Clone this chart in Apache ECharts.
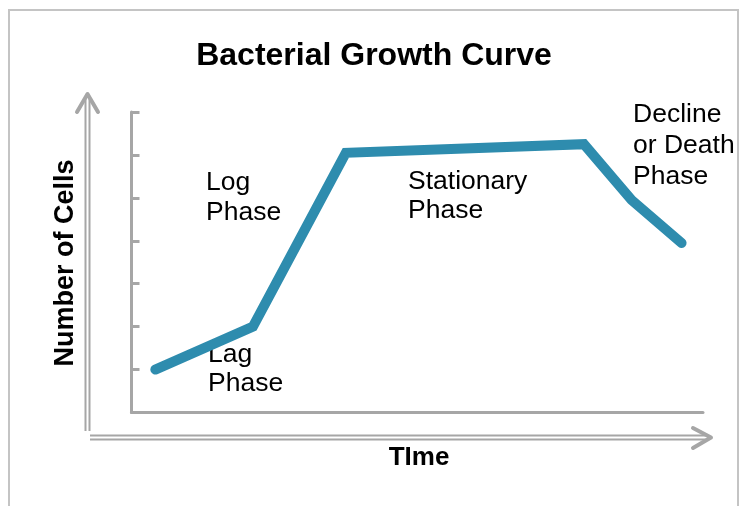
<!DOCTYPE html>
<html>
<head>
<meta charset="utf-8">
<script src="https://cdn.jsdelivr.net/npm/echarts@6/dist/echarts.min.js"></script>
<style>html,body{margin:0;padding:0;background:#fff}#c{width:742px;height:506px}</style>
</head>
<body>
<div id="c"></div>
<script>
var timeValues = [0.5, 2.55, 4.5, 9.5, 10.5, 11.55];
var cellValues = [1, 2, 6.05, 6.25, 4.95, 3.95];
var phaseLabels = [
  {text: 'Log\nPhase', x: 206, y: 198, lh: 30},
  {text: 'Lag\nPhase', x: 208, y: 369, lh: 29},
  {text: 'Stationary\nPhase', x: 408, y: 196, lh: 29},
  {text: 'Decline\nor Death\nPhase', x: 633, y: 146, lh: 31}
];
var titleText = 'Bacterial Growth Curve';
var xName = 'TIme';
var yName = 'Number of Cells';

var gray = '#a6a6a6';
var chart = echarts.init(document.getElementById('c'), null, {renderer: 'canvas'});
var graphics = [
  {type: 'polyline', shape: {points: [[9, 506], [9, 10], [738, 10], [738, 506]]}, style: {stroke: '#c4c4c4', lineWidth: 2, fill: null}},
  // vertical double arrow
  {type: 'line', shape: {x1: 85.5, y1: 98, x2: 85.5, y2: 431}, style: {stroke: gray, lineWidth: 2}},
  {type: 'line', shape: {x1: 89.5, y1: 98, x2: 89.5, y2: 431}, style: {stroke: gray, lineWidth: 2}},
  {type: 'polyline', shape: {points: [[77, 112], [87.5, 94], [98, 112]]}, style: {stroke: gray, lineWidth: 4, fill: null, lineCap: 'round', lineJoin: 'round'}},
  // horizontal double arrow
  {type: 'line', shape: {x1: 90, y1: 435.5, x2: 708, y2: 435.5}, style: {stroke: gray, lineWidth: 2}},
  {type: 'line', shape: {x1: 90, y1: 439.5, x2: 708, y2: 439.5}, style: {stroke: gray, lineWidth: 2}},
  {type: 'polyline', shape: {points: [[693, 428], [711, 437.5], [693, 448]]}, style: {stroke: gray, lineWidth: 4, fill: null, lineCap: 'round', lineJoin: 'round'}},
  {type: 'text', x: 374, y: 56, style: {text: titleText, font: 'bold 32px "Liberation Sans", Arial, sans-serif', fill: '#000', textAlign: 'center', textVerticalAlign: 'middle'}},
  {type: 'text', x: 66, y: 263, rotation: Math.PI / 2, style: {text: yName, font: 'bold 27px "Liberation Sans", Arial, sans-serif', fill: '#000', textAlign: 'center', textVerticalAlign: 'middle'}},
  {type: 'text', x: 419, y: 458, style: {text: xName, font: 'bold 26px "Liberation Sans", Arial, sans-serif', fill: '#000', textAlign: 'center', textVerticalAlign: 'middle'}}
];
phaseLabels.forEach(function (p) {
  graphics.push({type: 'text', x: p.x, y: p.y, style: {text: p.text, font: '26.5px "Liberation Sans", Arial, sans-serif', lineHeight: p.lh, fill: '#000', textAlign: 'left', textVerticalAlign: 'middle'}});
});

chart.setOption({
  animation: false,
  backgroundColor: '#fff',
  grid: {left: 131.5, top: 112, right: 39, bottom: 93.5},
  xAxis: {
    type: 'value', min: 0, max: 12,
    axisLine: {show: true, onZero: false, lineStyle: {color: gray, width: 3}},
    axisTick: {show: false}, axisLabel: {show: false}, splitLine: {show: false}
  },
  yAxis: {
    type: 'value', min: 0, max: 7, interval: 1,
    axisLine: {show: true, onZero: false, lineStyle: {color: gray, width: 3}},
    axisTick: {show: true, inside: true, length: 8, lineStyle: {color: gray, width: 3}},
    axisLabel: {show: false}, splitLine: {show: false}
  },
  series: [{
    type: 'line',
    data: timeValues.map(function (t, i) { return [t, cellValues[i]]; }),
    symbol: 'none',
    lineStyle: {color: '#2E8CAE', width: 10, cap: 'round', join: 'miter'}
  }],
  graphic: graphics
});
</script>
</body>
</html>
